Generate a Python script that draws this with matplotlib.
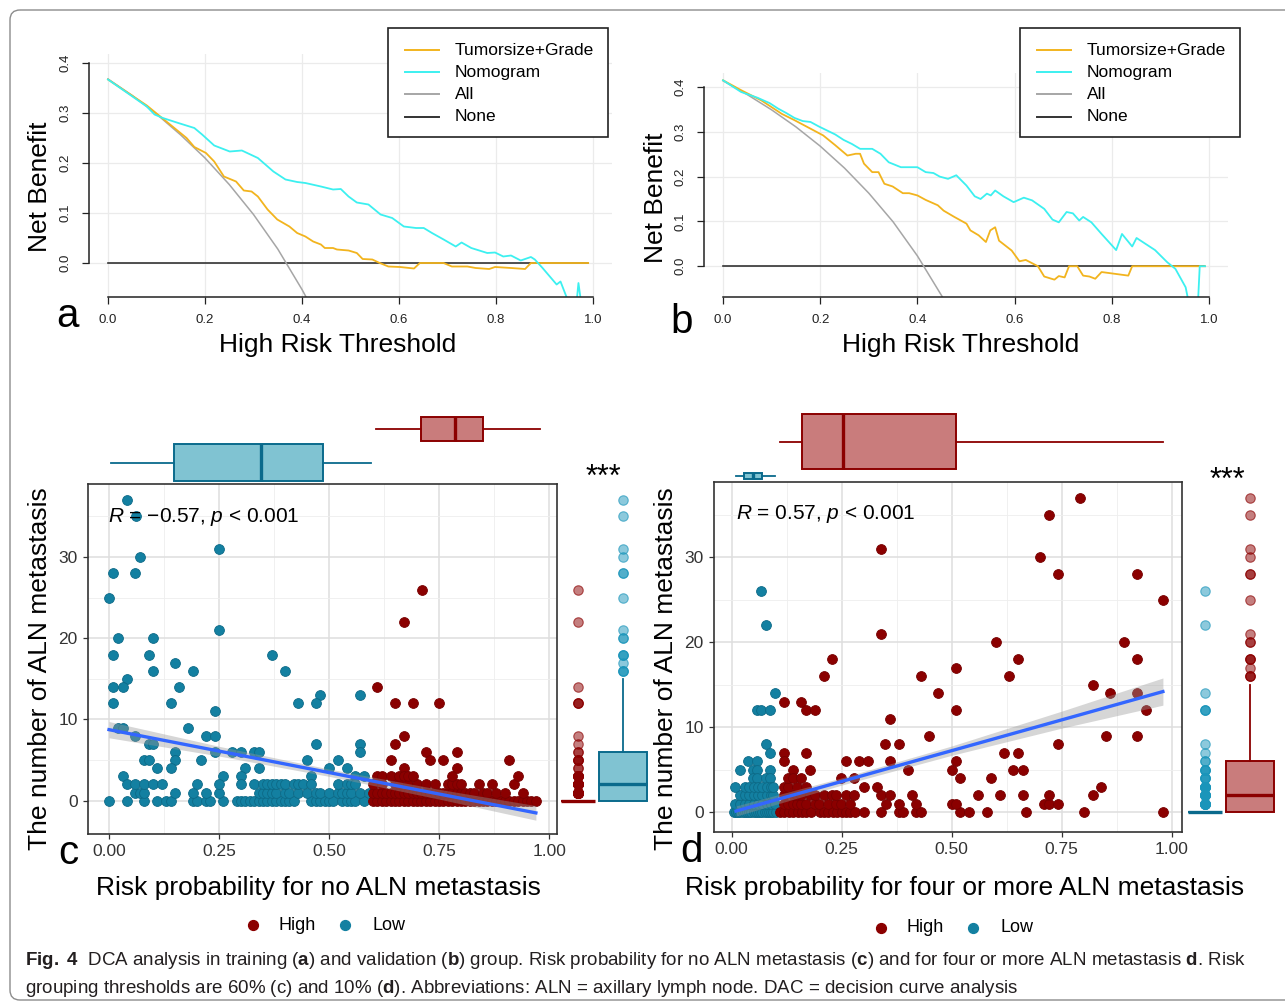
import matplotlib
matplotlib.use("Agg")
import matplotlib.pyplot as plt
from matplotlib import font_manager
from matplotlib.colors import to_rgba
from matplotlib.patches import Rectangle, FancyBboxPatch

# ---------------- values ----------------
dca_labels = ["Tumorsize+Grade", "Nomogram", "All", "None"]
dca_colors = ["#F2B41E", "#3CF0F0", "#A6A6A6", "#333333"]

# a: training group
a_tg_x = [0, 0.08, 0.162, 0.178, 0.202, 0.219, 0.239, 0.264, 0.28, 0.296, 0.309, 0.329, 0.349, 0.374,
          0.39, 0.407, 0.423, 0.439, 0.447, 0.464, 0.472, 0.496, 0.513, 0.525, 0.545, 0.558, 0.578,
          0.602, 0.631, 0.643, 0.692, 0.709, 0.741, 0.758, 0.786, 0.798, 0.831, 0.86, 0.872, 0.99]
a_tg_y = [0.367, 0.315, 0.25, 0.232, 0.22, 0.203, 0.173, 0.163, 0.145, 0.143, 0.133, 0.107, 0.087, 0.073,
          0.06, 0.053, 0.043, 0.037, 0.03, 0.03, 0.027, 0.025, 0.02, 0.008, 0.007, 0.001, -0.007,
          -0.008, -0.011, 0, 0, -0.007, -0.007, -0.01, -0.012, -0.008, -0.01, -0.012, 0, 0]
a_nomo_x = [0, 0.08, 0.096, 0.113, 0.145, 0.178, 0.194, 0.219, 0.251, 0.276, 0.309, 0.341, 0.366, 0.39,
            0.407, 0.439, 0.464, 0.48, 0.496, 0.513, 0.537, 0.562, 0.586, 0.61, 0.635, 0.651, 0.668,
            0.692, 0.717, 0.729, 0.749, 0.782, 0.798, 0.815, 0.831, 0.851, 0.872, 0.88, 0.896, 0.925,
            0.933, 0.945, 0.955, 0.965, 0.97, 0.977]
a_nomo_y = [0.367, 0.313, 0.297, 0.29, 0.28, 0.27, 0.257, 0.235, 0.223, 0.225, 0.21, 0.183, 0.167, 0.162,
            0.16, 0.153, 0.147, 0.148, 0.133, 0.121, 0.117, 0.097, 0.09, 0.073, 0.07, 0.07, 0.06,
            0.047, 0.033, 0.041, 0.03, 0.02, 0.021, 0.013, 0.015, 0.005, 0.012, 0.007, -0.01, -0.043,
            -0.037, -0.067, -0.09, -0.09, -0.04, -0.09]
a_all_x = [0, 0.05, 0.10, 0.15, 0.20, 0.25, 0.30, 0.35, 0.40, 0.41]
a_all_y = [0.368, 0.335, 0.298, 0.256, 0.210, 0.157, 0.097, 0.028, -0.053, -0.071]

# b: validation group
b_tg_x = [0, 0.037, 0.079, 0.121, 0.147, 0.18, 0.206, 0.231, 0.256, 0.273, 0.282, 0.29, 0.307, 0.32,
          0.332, 0.349, 0.37, 0.383, 0.4, 0.417, 0.442, 0.454, 0.476, 0.501, 0.509, 0.526, 0.541, 0.55,
          0.56, 0.568, 0.594, 0.61, 0.623, 0.648, 0.661, 0.682, 0.691, 0.703, 0.712, 0.729, 0.741,
          0.754, 0.766, 0.779, 0.834, 0.842, 0.992]
b_tg_y = [0.415, 0.393, 0.37, 0.34, 0.326, 0.307, 0.292, 0.27, 0.247, 0.251, 0.251, 0.229, 0.21, 0.21,
          0.184, 0.178, 0.163, 0.163, 0.158, 0.148, 0.136, 0.124, 0.11, 0.095, 0.08, 0.069, 0.054, 0.08,
          0.087, 0.057, 0.035, 0.011, 0.014, 0, -0.023, -0.03, -0.022, -0.025, 0, 0, -0.021,
          -0.023, -0.028, -0.013, -0.021, 0, 0]
b_nomo_x = [0, 0.037, 0.071, 0.096, 0.113, 0.13, 0.147, 0.164, 0.18, 0.197, 0.214, 0.231, 0.248, 0.265,
            0.282, 0.307, 0.324, 0.341, 0.366, 0.4, 0.417, 0.433, 0.446, 0.463, 0.48, 0.501, 0.518,
            0.53, 0.543, 0.551, 0.56, 0.577, 0.598, 0.619, 0.636, 0.661, 0.678, 0.691, 0.707, 0.72,
            0.733, 0.741, 0.758, 0.779, 0.809, 0.821, 0.842, 0.851, 0.889, 0.914, 0.931, 0.952, 0.96,
            0.977, 0.981, 0.992]
b_nomo_y = [0.415, 0.389, 0.376, 0.364, 0.352, 0.342, 0.331, 0.324, 0.322, 0.312, 0.303, 0.294, 0.282,
            0.273, 0.262, 0.262, 0.251, 0.232, 0.221, 0.221, 0.21, 0.208, 0.2, 0.195, 0.203, 0.18,
            0.156, 0.15, 0.162, 0.158, 0.169, 0.156, 0.143, 0.153, 0.147, 0.128, 0.104, 0.098, 0.121,
            0.118, 0.102, 0.11, 0.098, 0.072, 0.036, 0.072, 0.044, 0.063, 0.036, 0.009, -0.006,
            -0.047, -0.09, -0.09, 0, 0]
b_all_x = [0, 0.05, 0.10, 0.15, 0.20, 0.25, 0.30, 0.35, 0.40, 0.45, 0.455]
b_all_y = [0.414, 0.383, 0.349, 0.311, 0.268, 0.219, 0.163, 0.099, 0.023, -0.066, -0.075]
none_x = [0, 0.99]
none_y = [0, 0]

# c: risk probability for no ALN metastasis (threshold 60%)
c_low_x = [0.041, 0.062, 0.25, 0.071, 0.01, 0.06, 0.0, 0.25, 0.02, 0.10, 0.01, 0.091, 0.371, 0.15, 0.10,
           0.19, 0.40, 0.041, 0.01, 0.031, 0.16, 0.48, 0.57, 0.01, 0.141, 0.43, 0.47, 0.24, 0.02, 0.031,
           0.18, 0.06, 0.22, 0.24, 0.091, 0.10, 0.47, 0.57, 0.24, 0.15, 0.28, 0.30, 0.33, 0.34, 0.57,
           0.08, 0.091, 0.15, 0.21, 0.45, 0.52, 0.11, 0.14, 0.31, 0.34, 0.50, 0.54, 0.031, 0.26, 0.30,
           0.46, 0.56, 0.58]
c_low_y = [37, 35, 31, 30, 28, 28, 25, 21, 20, 20, 18, 18, 18, 17, 16, 16, 16, 15, 14, 14, 14, 13, 13,
           12, 12, 12, 12, 11, 9, 9, 9, 8, 8, 8, 7, 7, 7, 7, 6, 6, 6, 6, 6, 6, 6, 5, 5, 5, 5, 5, 5,
           4, 4, 4, 4, 4, 4, 3, 3, 3, 3, 3, 3]
c_low_row2 = [0.04, 0.06, 0.08, 0.10, 0.12, 0.20, 0.25, 0.30, 0.33, 0.35, 0.36, 0.37, 0.38, 0.39, 0.40,
              0.42, 0.43, 0.44, 0.46, 0.52, 0.54, 0.55, 0.56]
c_low_row1 = [0.06, 0.07, 0.08, 0.15, 0.19, 0.22, 0.25, 0.34, 0.35, 0.36, 0.37, 0.38, 0.40, 0.41, 0.43,
              0.45, 0.47, 0.48, 0.50, 0.52, 0.53, 0.54, 0.55, 0.57, 0.59]
c_low_row0 = [0.0, 0.04, 0.08, 0.11, 0.13, 0.14, 0.19, 0.20, 0.22, 0.23, 0.26, 0.29, 0.30, 0.31, 0.32,
              0.33, 0.34, 0.35, 0.36, 0.37, 0.38, 0.39, 0.40, 0.41, 0.42, 0.46, 0.47, 0.48, 0.49, 0.50,
              0.51, 0.53, 0.54, 0.55, 0.56, 0.58]
c_high_x = [0.711, 0.67, 0.61, 0.65, 0.69, 0.749, 0.67, 0.65, 0.72, 0.79, 0.64, 0.73, 0.76, 0.91, 0.67, 0.79]
c_high_y = [26, 22, 14, 12, 12, 12, 8, 7, 6, 6, 5, 5, 5, 5, 4, 4]
c_high_row3 = [0.61, 0.62, 0.64, 0.66, 0.67, 0.68, 0.69, 0.78, 0.93]
c_high_row2 = [0.60, 0.62, 0.65, 0.66, 0.68, 0.70, 0.72, 0.74, 0.77, 0.78, 0.79, 0.80, 0.84, 0.87, 0.92]
c_high_row1 = [0.60, 0.61, 0.62, 0.63, 0.64, 0.65, 0.66, 0.67, 0.68, 0.69, 0.70, 0.71, 0.72, 0.73, 0.74,
               0.75, 0.76, 0.77, 0.78, 0.79, 0.80, 0.81, 0.82, 0.83, 0.85, 0.86, 0.88, 0.90, 0.94]
c_high_row0 = [0.60, 0.61, 0.62, 0.63, 0.64, 0.65, 0.66, 0.67, 0.68, 0.69, 0.70, 0.71, 0.72, 0.73, 0.74,
               0.75, 0.76, 0.77, 0.78, 0.79, 0.80, 0.81, 0.82, 0.83, 0.84, 0.85, 0.86, 0.87, 0.88, 0.89,
               0.90, 0.91, 0.92, 0.93, 0.94, 0.95, 0.96, 0.97]
c_fit_x = [0.0, 0.97]
c_fit_y = [8.75, -1.5]
c_band_x = [0.0, 0.25, 0.5, 0.75, 0.97]
c_band_lo = [7.75, 5.5, 3.0, 0.2, -2.4]
c_band_hi = [9.75, 6.7, 3.9, 1.4, -0.6]
c_top_low = dict(whislo=0.005, q1=0.148, med=0.345, q3=0.487, whishi=0.595)
c_top_high = dict(whislo=0.606, q1=0.708, med=0.787, q3=0.849, whishi=0.979)
c_right_low = dict(whislo=0, q1=0, med=2, q3=6, whishi=15)
c_right_high = dict(whislo=0, q1=0, med=0, q3=0, whishi=0)

# d: risk probability for four or more ALN metastasis (threshold 10%)
d_high_x = [0.791, 0.721, 0.339, 0.70, 0.741, 0.921, 0.981, 0.339, 0.60, 0.891, 0.229, 0.651, 0.921,
            0.209, 0.43, 0.63, 0.51, 0.821, 0.47, 0.86, 0.921, 0.118, 0.158, 0.168, 0.189, 0.51, 0.941,
            0.36, 0.449, 0.85, 0.921, 0.349, 0.38, 0.741, 0.118, 0.168, 0.62, 0.651, 0.118, 0.259,
            0.289, 0.31, 0.36, 0.51, 0.139, 0.178, 0.40, 0.50, 0.64, 0.661]
d_high_y = [37, 35, 31, 30, 28, 28, 25, 21, 20, 20, 18, 18, 18, 16, 16, 16, 17, 15, 14, 14, 14, 13, 13,
            12, 12, 12, 12, 11, 9, 9, 9, 8, 8, 8, 7, 7, 7, 7, 6, 6, 6, 6, 6, 6, 5, 5, 5, 5, 5, 5]
d_high_row4 = [0.128, 0.139, 0.158, 0.249, 0.279, 0.52, 0.59]
d_high_row3 = [0.118, 0.128, 0.149, 0.168, 0.30, 0.33, 0.84]
d_high_row2 = [0.118, 0.139, 0.149, 0.158, 0.178, 0.189, 0.209, 0.228, 0.238, 0.259, 0.279, 0.339, 0.36,
               0.41, 0.56, 0.61, 0.661, 0.721, 0.821]
d_high_row1 = [0.118, 0.128, 0.139, 0.149, 0.158, 0.168, 0.189, 0.199, 0.219, 0.238, 0.249, 0.27, 0.35,
               0.38, 0.42, 0.50, 0.51, 0.71, 0.721, 0.741]
d_high_row0 = [0.11, 0.12, 0.13, 0.14, 0.15, 0.16, 0.17, 0.18, 0.20, 0.21, 0.22, 0.23, 0.24, 0.25, 0.26,
               0.27, 0.28, 0.30, 0.34, 0.38, 0.39, 0.42, 0.43, 0.52, 0.54, 0.58, 0.67, 0.80, 0.98]
d_low_x = [0.067, 0.078, 0.098, 0.057, 0.067, 0.088, 0.078, 0.088, 0.037, 0.057, 0.018, 0.048, 0.057,
           0.088, 0.048, 0.057, 0.078, 0.088]
d_low_y = [26, 22, 14, 12, 12, 12, 8, 7, 6, 6, 5, 5, 5, 5, 4, 4, 4, 4]
d_low_row3 = [0.008, 0.03, 0.04, 0.05, 0.06, 0.07, 0.08, 0.09, 0.095]
d_low_row2 = [0.02, 0.03, 0.04, 0.05, 0.06, 0.07, 0.08, 0.09, 0.095]
d_low_row1 = [0.008, 0.02, 0.03, 0.04, 0.05, 0.06, 0.07, 0.08, 0.09, 0.098]
d_low_row0 = [0.005, 0.01, 0.015, 0.02, 0.025, 0.03, 0.035, 0.04, 0.045, 0.05, 0.055, 0.06, 0.065,
              0.07, 0.075, 0.08, 0.085, 0.09, 0.095, 0.1]
d_fit_x = [0.01, 0.98]
d_fit_y = [0.15, 14.2]
d_band_x = [0.01, 0.25, 0.5, 0.75, 0.98]
d_band_lo = [-0.45, 3.2, 6.7, 9.9, 12.6]
d_band_hi = [0.75, 4.05, 7.8, 11.9, 15.8]
d_top_low = dict(whislo=0.01, q1=0.029, med=0.049, q3=0.07, whishi=0.099)
d_top_high = dict(whislo=0.11, q1=0.159, med=0.254, q3=0.51, whishi=0.98)
d_right_low = dict(whislo=0, q1=0, med=0, q3=0, whishi=0)
d_right_high = dict(whislo=0, q1=0, med=2, q3=6, whishi=15)

risk_ticks = [0, 0.25, 0.5, 0.75, 1.0]
risk_ticklabels = ["0.00", "0.25", "0.50", "0.75", "1.00"]
count_ticks = [0, 10, 20, 30]

caption1 = (r"$\bf{Fig.\ 4}$  DCA analysis in training ($\bf{a}$) and validation ($\bf{b}$) group. "
            r"Risk probability for no ALN metastasis ($\bf{c}$) and for four or more ALN metastasis "
            r"$\bf{d}$. Risk")
caption2 = (r"grouping thresholds are 60% (c) and 10% ($\bf{d}$). Abbreviations: ALN = axillary lymph "
            r"node. DAC = decision curve analysis")

# ---------------- style ----------------
names = {f.name for f in font_manager.fontManager.ttflist}
cap_font = "Liberation Sans Narrow" if "Liberation Sans Narrow" in names else "Liberation Sans"
plt.rcParams["font.family"] = ["Liberation Sans", "DejaVu Sans"]
plt.rcParams["mathtext.fontset"] = "custom"
plt.rcParams["mathtext.it"] = "Liberation Sans:italic"
plt.rcParams["mathtext.rm"] = "Liberation Sans"
plt.rcParams["mathtext.bf"] = cap_font + ":bold"

RED = "#8B0000"
BLUE = "#1380A1"
RED_FILL = "#C97C7C"
BLUE_FILL = "#80C3D2"
BLUE_EDGE = "#0A6A8C"
PT = 50  # scatter marker area

W, H = 1285, 1006
fig = plt.figure(figsize=(W / 100, H / 100), dpi=100)


def px_axes(x0, y0, x1, y1):
    return fig.add_axes([x0 / W, 1 - y1 / H, (x1 - x0) / W, (y1 - y0) / H])


def dca_panel(box, ylim, tg, nomo, allc):
    ax = px_axes(*box)
    ax.plot(none_x, none_y, color=dca_colors[3], lw=1.2)
    ax.plot(allc[0], allc[1], color=dca_colors[2], lw=1.1)
    ax.plot(tg[0], tg[1], color=dca_colors[0], lw=1.3)
    ax.plot(nomo[0], nomo[1], color=dca_colors[1], lw=1.3)
    ax.set_xlim(-0.04, 1.04)
    ax.set_ylim(*ylim)
    ax.set_xticks([0, 0.2, 0.4, 0.6, 0.8, 1.0])
    ax.set_xticklabels(["0.0", "0.2", "0.4", "0.6", "0.8", "1.0"])
    ax.set_yticks([0, 0.1, 0.2, 0.3, 0.4])
    ax.set_yticklabels(["0.0", "0.1", "0.2", "0.3", "0.4"], rotation=90, va="center")
    for s in ("top", "right"):
        ax.spines[s].set_visible(False)
    ax.spines["left"].set_bounds(0, 0.4)
    ax.spines["bottom"].set_bounds(0, 1)
    for s in ("left", "bottom"):
        ax.spines[s].set_color("#222222")
        ax.spines[s].set_linewidth(1.1)
    ax.tick_params(length=5, width=0.9, color="#222222", labelsize=9.5, labelcolor="#222222", pad=7)
    ax.grid(True, color="#EBEBEB", lw=0.9)
    ax.set_axisbelow(True)
    ax.patch.set_alpha(0)
    return ax


dca_panel((88.6, 54, 612.4, 297), (-0.068, 0.418),
          (a_tg_x, a_tg_y), (a_nomo_x, a_nomo_y), (a_all_x, a_all_y))
dca_panel((703.6, 72.9, 1228.4, 296.9), (-0.0685, 0.4315),
          (b_tg_x, b_tg_y), (b_nomo_x, b_nomo_y), (b_all_x, b_all_y))


def draw_box(ax, stats, pos, width, fill, edge, fliers, flier_col, horizontal):
    st = dict(stats)
    st["fliers"] = fliers
    kw = dict(positions=[pos], widths=[width], patch_artist=True, showcaps=False,
              boxprops=dict(facecolor=fill, edgecolor=edge, linewidth=1.4),
              medianprops=dict(color=edge, linewidth=2.4, solid_capstyle="butt"),
              whiskerprops=dict(color=edge, linewidth=1.3),
              flierprops=dict(marker="o", markersize=6.8, markerfacecolor=to_rgba(flier_col, 0.5),
                              markeredgecolor=to_rgba(flier_col, 0.65), markeredgewidth=0.8))
    try:
        ax.bxp([st], orientation="horizontal" if horizontal else "vertical", **kw)
    except TypeError:
        ax.bxp([st], vert=not horizontal, **kw)


def scatter_panel(box, xlim, ylim, low_pts, high_pts, fit, band):
    ax = px_axes(*box)
    ax.scatter(low_pts[0], low_pts[1], s=PT, color=BLUE, edgecolors="#0D6A87", linewidths=0.6, zorder=3)
    ax.scatter(high_pts[0], high_pts[1], s=PT, color=RED, edgecolors="#760000", linewidths=0.6, zorder=3)
    ax.fill_between(band[0], band[1], band[2], color="#999999", alpha=0.4, lw=0, zorder=4)
    ax.plot(fit[0], fit[1], color="#3366FF", lw=2.4, zorder=5)
    ax.set_xlim(*xlim)
    ax.set_ylim(*ylim)
    ax.set_xticks(risk_ticks)
    ax.set_xticklabels(risk_ticklabels)
    ax.set_yticks(count_ticks)
    ax.set_xticks([0.125, 0.375, 0.625, 0.875], minor=True)
    ax.set_yticks([5, 15, 25, 35], minor=True)
    ax.tick_params(which="major", length=3.5, width=0.9, color="#333333", labelsize=12.5,
                   labelcolor="#333333", pad=4)
    ax.tick_params(which="minor", length=0)
    ax.grid(which="major", color="#DEDEDE", lw=1.1)
    ax.grid(which="minor", color="#EEEEEE", lw=0.6)
    ax.set_axisbelow(True)
    for s in ax.spines.values():
        s.set_color("#333333")
        s.set_linewidth(1.2)
    return ax


def rows(xs_by_level):
    xs, ys = [], []
    for level, xs_row in xs_by_level:
        xs += list(xs_row)
        ys += [level] * len(xs_row)
    return xs, ys


# ---- panel c ----
cl_x, cl_y = rows([(0, c_low_row0), (1, c_low_row1), (2, c_low_row2)])
cl_x, cl_y = c_low_x + cl_x, c_low_y + cl_y
ch_x, ch_y = rows([(0, c_high_row0), (1, c_high_row1), (2, c_high_row2), (3, c_high_row3)])
ch_x, ch_y = c_high_x + ch_x, c_high_y + ch_y
c_ylim = (-4.1, 39.0)
scatter_panel((88, 484, 557, 834), (-0.0477, 1.018), c_ylim, (cl_x, cl_y), (ch_x, ch_y),
              (c_fit_x, c_fit_y), (c_band_x, c_band_lo, c_band_hi))

axt = px_axes(88, 405, 557, 484)
axt.set_xlim(-0.0477, 1.018)
axt.set_ylim(484, 405)
axt.axis("off")
draw_box(axt, c_top_low, 462.5, 37, BLUE_FILL, BLUE_EDGE, [], BLUE, True)
draw_box(axt, c_top_high, 428.7, 24, RED_FILL, RED, [], RED, True)

axr = px_axes(557, 484, 660, 834)
axr.set_xlim(557, 660)
axr.set_ylim(*c_ylim)
axr.axis("off")
draw_box(axr, c_right_high, 577.8, 34.3, RED_FILL, RED,
         [v for v in ch_y if v > c_right_high["whishi"]], RED, False)
draw_box(axr, c_right_low, 622.8, 47.7, BLUE_FILL, BLUE_EDGE,
         [v for v in cl_y if v > c_right_low["whishi"]], "#1A95BA", False)

# ---- panel d ----
dl_x, dl_y = rows([(0, d_low_row0), (1, d_low_row1), (2, d_low_row2), (3, d_low_row3)])
dl_x, dl_y = d_low_x + dl_x, d_low_y + dl_y
dh_x, dh_y = rows([(0, d_high_row0), (1, d_high_row1), (2, d_high_row2), (3, d_high_row3),
                   (4, d_high_row4)])
dh_x, dh_y = d_high_x + dh_x, d_high_y + dh_y
d_ylim = (-2.32, 38.82)
scatter_panel((714, 482.3, 1182, 832), (-0.0402, 1.0234), d_ylim, (dl_x, dl_y), (dh_x, dh_y),
              (d_fit_x, d_fit_y), (d_band_x, d_band_lo, d_band_hi))

axt = px_axes(714, 405, 1182, 482.3)
axt.set_xlim(-0.0402, 1.0234)
axt.set_ylim(482.3, 405)
axt.axis("off")
draw_box(axt, d_top_high, 441.7, 54.7, RED_FILL, RED, [], RED, True)
draw_box(axt, d_top_low, 476, 6, BLUE_FILL, BLUE_EDGE, [], BLUE, True)

axr = px_axes(1182, 482.3, 1285, 832)
axr.set_xlim(1182, 1285)
axr.set_ylim(*d_ylim)
axr.axis("off")
draw_box(axr, d_right_low, 1204.7, 34, BLUE_FILL, BLUE_EDGE,
         [v for v in dl_y if v > d_right_low["whishi"]], "#1A95BA", False)
draw_box(axr, d_right_high, 1249.8, 48.3, RED_FILL, RED,
         [v for v in dh_y if v > d_right_high["whishi"]], RED, False)

# ---------------- overlay: labels, legends, caption ----------------
ov = fig.add_axes([0, 0, 1, 1])
ov.set_xlim(0, W)
ov.set_ylim(H, 0)
ov.axis("off")
ov.patch.set_alpha(0)

ov.add_patch(FancyBboxPatch((10, 10), 1300, 990, boxstyle="round,pad=0,rounding_size=10",
                            fc="none", ec="#8C8C8C", lw=1.0))

for x0 in (388, 1020):
    ov.add_patch(Rectangle((x0, 28), 220, 109, fc="white", ec="#222222", lw=1.2, zorder=5))
    for i, (lab, col) in enumerate(zip(dca_labels, dca_colors)):
        y = 50 + i * 22.2
        ov.plot([x0 + 17, x0 + 51], [y, y], color=col, lw=1.4, zorder=6)
        ov.text(x0 + 67, y, lab, fontsize=12.5, ha="left", va="center", zorder=6)

big = 19
ov.text(40, 187, "Net Benefit", fontsize=big, rotation=90, ha="center", va="center")
ov.text(338, 345, "High Risk Threshold", fontsize=big, ha="center", va="center")
ov.text(656, 198, "Net Benefit", fontsize=big, rotation=90, ha="center", va="center")
ov.text(961, 345, "High Risk Threshold", fontsize=big, ha="center", va="center")

ov.text(40, 669, "The number of ALN metastasis", fontsize=big, rotation=90, ha="center", va="center")
ov.text(318, 888, "Risk probability for no ALN metastasis", fontsize=big, ha="center", va="center")
ov.text(666, 669, "The number of ALN metastasis", fontsize=big, rotation=90, ha="center", va="center")
ov.text(965, 888, "Risk probability for four or more ALN metastasis", fontsize=big,
        ha="center", va="center")

for lab, x, y in (("a", 68, 316), ("b", 682, 322), ("c", 68, 853), ("d", 691, 851)):
    ov.text(x, y, lab, fontsize=29, ha="center", va="center")

ov.text(108, 517, r"$\it{R}$ = −0.57, $\it{p}$ < 0.001", fontsize=15, ha="left", va="center", zorder=7)
ov.text(736, 514, r"$\it{R}$ = 0.57, $\it{p}$ < 0.001", fontsize=15, ha="left", va="center", zorder=7)
ov.text(603, 478, "***", fontsize=22, ha="center", va="center")
ov.text(1227, 481, "***", fontsize=22, ha="center", va="center")

for (xr, yl) in ((253, 925), (881, 928)):
    ov.scatter([xr], [yl], s=PT, color=RED, zorder=6)
    ov.text(xr + 26, yl, "High", fontsize=13, ha="left", va="center")
    ov.scatter([xr + 92], [yl], s=PT, color=BLUE, zorder=6)
    ov.text(xr + 119, yl, "Low", fontsize=13, ha="left", va="center")

cap1 = ov.text(25, 965, caption1, fontsize=12, ha="left", va="baseline", family=cap_font,
               color="#231F20")
cap2 = ov.text(25, 993, caption2, fontsize=12, ha="left", va="baseline", family=cap_font,
               color="#231F20")
renderer = fig.canvas.get_renderer()
w1 = cap1.get_window_extent(renderer).width
fs = 12 * 1218 / w1
cap1.set_fontsize(fs)
cap2.set_fontsize(fs)

fig.savefig("out.png", dpi=100)
